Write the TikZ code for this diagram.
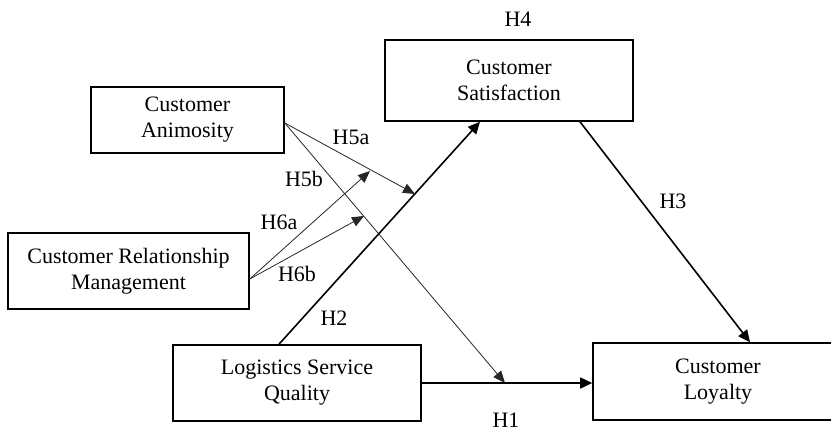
\documentclass[tikz,border=0pt]{standalone}
\usepackage{fontspec}
\setmainfont{Liberation Serif}
\usetikzlibrary{arrows.meta}
\begin{document}
\begin{tikzpicture}[x=1pt,y=1pt,
  boxnode/.style={draw, line width=1.6pt, align=center, inner sep=0pt,
    font=\fontsize{22}{26}\selectfont},
  lbl/.style={inner sep=0pt, font=\fontsize{22}{26}\selectfont},
  thickarrow/.style={line width=1.6pt, -{Triangle[length=12pt,width=11pt]}},
  thinarrow/.style={line width=0.8pt, draw=black!85, -{Triangle[length=12pt,width=10pt]}}]
\useasboundingbox (0,0) rectangle (831,432);
\clip (0,0) rectangle (831,432);
\node[boxnode, minimum width=193pt, minimum height=66pt] (anim) at (187.5,312) {Customer\\Animosity};
\node[boxnode, minimum width=241pt, minimum height=76pt] (crm) at (128.5,161) {Customer Relationship\\Management};
\node[boxnode, minimum width=248pt, minimum height=81pt] (sat) at (509,351.5) {Customer\\Satisfaction};
\node[boxnode, minimum width=248pt, minimum height=76pt] (lsq) at (297,49) {Logistics Service\\Quality};
\node[boxnode, minimum width=250pt, minimum height=77pt] (loy) at (718,50.5) {Customer\\Loyalty};

\coordinate (h5atip) at (415,238);
\coordinate (h5btip) at (505,49);
\coordinate (h6atip) at (370,261);
\coordinate (h6btip) at (364,216);

\draw[thickarrow] (lsq.east) -- (lsq.east -| loy.west);
\draw[thickarrow] ([xshift=-18pt]lsq.north) -- ([xshift=-29pt]sat.south);
\draw[thickarrow] ([xshift=71pt]sat.south) -- ([xshift=32pt]loy.north);
\draw[thinarrow] ([yshift=-3pt]anim.east) -- (h5atip);
\draw[thinarrow] ([yshift=-3pt]anim.east) -- (h5btip);
\draw[thinarrow] ([yshift=-8pt]crm.east) -- (h6atip);
\draw[thinarrow] ([yshift=-8pt]crm.east) -- (h6btip);

\node[lbl] (lh1) at (506,12) {H1};
\node[lbl] (lh2) at (334,114) {H2};
\node[lbl] (lh3) at (673,231) {H3};
\node[lbl] (lh4) at (518,413) {H4};
\node[lbl] (lh5a) at (351,295) {H5a};
\node[lbl] (lh5b) at (304,253) {H5b};
\node[lbl] (lh6a) at (279,210) {H6a};
\node[lbl] (lh6b) at (297,158) {H6b};
\end{tikzpicture}
\end{document}
